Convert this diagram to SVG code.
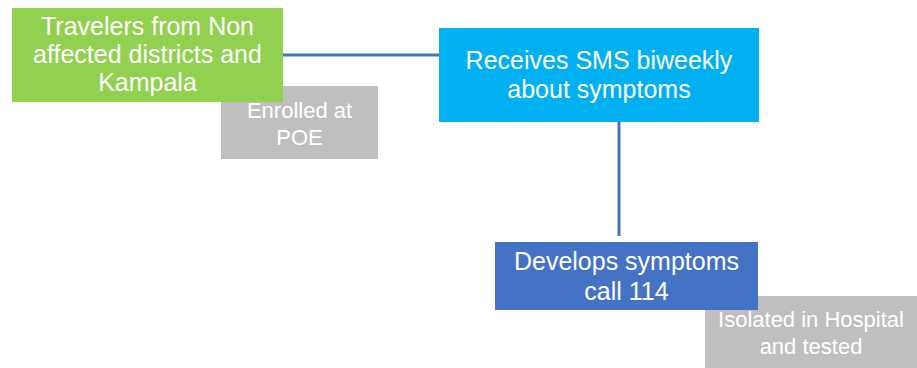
<svg xmlns="http://www.w3.org/2000/svg" width="917" height="368" viewBox="0 0 917 368">
<style>
text{font-family:"Liberation Sans",Arial,sans-serif;fill:#fff;text-anchor:middle}
.m{font-size:25px}
.s{font-size:22px}
.conn{stroke:#4472C4;stroke-width:3;fill:none}
</style>
<rect width="917" height="368" fill="#fff"/>
<g id="enrolled">
<rect x="221" y="86" width="157" height="73" fill="#BFBFBF"/>
<text class="s" x="299.5" y="118">Enrolled at</text>
<text class="s" x="299.5" y="145">POE</text>
</g>
<g id="isolated">
<rect x="705" y="296" width="212" height="72" fill="#BFBFBF"/>
<text class="s" x="811" y="327">Isolated in Hospital</text>
<text class="s" x="811" y="354">and tested</text>
</g>
<g id="connectors">
<line class="conn" x1="283" y1="55" x2="439" y2="55"/>
<line class="conn" x1="619" y1="122" x2="619" y2="236"/>
</g>
<g id="travelers">
<rect x="12" y="8" width="271" height="94" fill="#92D050"/>
<text class="m" x="147.5" y="35">Travelers from Non</text>
<text class="m" x="147.5" y="63">affected districts and</text>
<text class="m" x="147.5" y="91">Kampala</text>
</g>
<g id="sms">
<rect x="439" y="28" width="320" height="94" fill="#00B0F0"/>
<text class="m" x="599" y="69">Receives SMS biweekly</text>
<text class="m" x="599" y="98">about symptoms</text>
</g>
<g id="develops">
<rect x="495" y="242" width="263" height="68" fill="#4472C4"/>
<text class="m" x="626.5" y="270">Develops symptoms</text>
<text class="m" x="626.5" y="300">call 114</text>
</g>
</svg>
